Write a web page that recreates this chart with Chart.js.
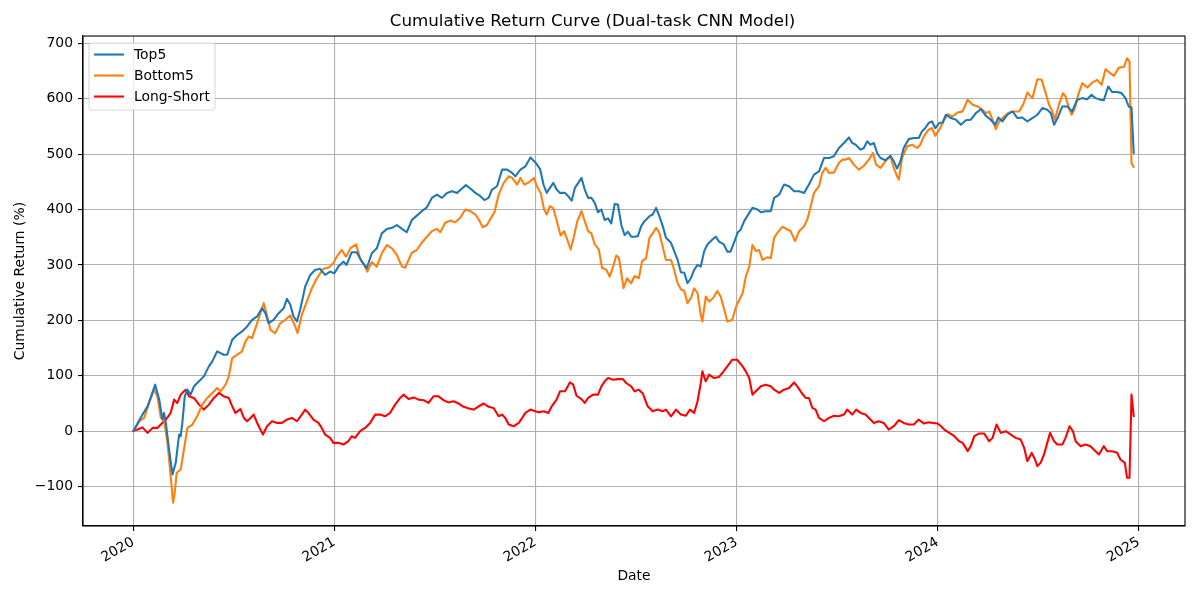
<!DOCTYPE html>
<html lang="en">
<head>
    <meta charset="UTF-8">
    <title>Cumulative Return Curve</title>
    <style>
        body { margin: 0; background: #fff; }
        #chartBox { width: 1200px; height: 600px; }
    </style>
</head>
<body>
<div id="chartBox"><canvas id="returnChart" width="1200" height="600"></canvas></div>

<script src="https://cdn.jsdelivr.net/npm/chart.js"></script>
<script>
// x values are decimal years, y values are cumulative return in %
const top5Years = [
    2020.000, 2020.046, 2020.071, 2020.109, 2020.129, 2020.145, 2020.153, 2020.162, 2020.178, 2020.195,
    2020.211, 2020.228, 2020.236, 2020.244, 2020.256, 2020.269, 2020.285, 2020.302, 2020.327, 2020.351,
    2020.376, 2020.393, 2020.417, 2020.434, 2020.450, 2020.467, 2020.492, 2020.517, 2020.541, 2020.566,
    2020.591, 2020.616, 2020.640, 2020.657, 2020.673, 2020.698, 2020.723, 2020.748, 2020.764, 2020.781,
    2020.797, 2020.814, 2020.830, 2020.855, 2020.880, 2020.904, 2020.929, 2020.954, 2020.979,
    2021.000, 2021.020, 2021.045, 2021.061, 2021.086, 2021.111, 2021.136, 2021.161, 2021.186, 2021.211,
    2021.236, 2021.261, 2021.286, 2021.311, 2021.336, 2021.360, 2021.385, 2021.410, 2021.435, 2021.460,
    2021.485, 2021.510, 2021.535, 2021.560, 2021.585, 2021.610, 2021.635, 2021.654, 2021.676, 2021.701,
    2021.726, 2021.746, 2021.767, 2021.784, 2021.809, 2021.834, 2021.859, 2021.884, 2021.900, 2021.925,
    2021.950, 2021.975,
    2022.000, 2022.023, 2022.040, 2022.056, 2022.072, 2022.089, 2022.105, 2022.122, 2022.147, 2022.163,
    2022.180, 2022.196, 2022.213, 2022.229, 2022.245, 2022.262, 2022.278, 2022.295, 2022.311, 2022.328,
    2022.344, 2022.361, 2022.377, 2022.394, 2022.410, 2022.427, 2022.443, 2022.460, 2022.476, 2022.493,
    2022.509, 2022.526, 2022.542, 2022.567, 2022.583, 2022.600, 2022.616, 2022.633, 2022.649, 2022.674,
    2022.690, 2022.707, 2022.723, 2022.740, 2022.756, 2022.773, 2022.789, 2022.806, 2022.822, 2022.839,
    2022.855, 2022.880, 2022.896, 2022.913, 2022.937, 2022.954, 2022.970, 2022.987,
    2023.005, 2023.021, 2023.038, 2023.063, 2023.079, 2023.104, 2023.121, 2023.145, 2023.170, 2023.187,
    2023.212, 2023.236, 2023.261, 2023.286, 2023.311, 2023.336, 2023.360, 2023.385, 2023.410, 2023.435,
    2023.460, 2023.484, 2023.509, 2023.534, 2023.559, 2023.575, 2023.592, 2023.617, 2023.633, 2023.650,
    2023.666, 2023.683, 2023.699, 2023.716, 2023.740, 2023.765, 2023.782, 2023.798, 2023.815, 2023.831,
    2023.856, 2023.881, 2023.906, 2023.922, 2023.939, 2023.955, 2023.972, 2023.988,
    2024.008, 2024.025, 2024.041, 2024.066, 2024.091, 2024.116, 2024.140, 2024.165, 2024.190, 2024.215,
    2024.240, 2024.264, 2024.286, 2024.302, 2024.322, 2024.347, 2024.372, 2024.397, 2024.421, 2024.446,
    2024.471, 2024.496, 2024.521, 2024.545, 2024.562, 2024.579, 2024.600, 2024.620, 2024.645, 2024.669,
    2024.694, 2024.719, 2024.744, 2024.765, 2024.785, 2024.810, 2024.826, 2024.848, 2024.868, 2024.893,
    2024.914, 2024.934, 2024.950, 2024.964, 2024.975
];
const top5Values = [
    0, 30, 45, 84, 57, 21, 33, 15, -33, -78,
    -57, -6, -9, 15, 63, 75, 66, 81, 90, 99,
    117, 126, 144, 141, 138, 138, 165, 174, 180, 189,
    201, 207, 222, 213, 195, 201, 213, 222, 239, 228,
    207, 198, 219, 261, 282, 291, 293, 282, 288,
    285, 297, 306, 300, 323, 323, 306, 294, 321, 330,
    357, 365, 367, 372, 365, 359, 381, 389, 397, 404,
    421, 427, 421, 430, 433, 430, 438, 444, 438, 430,
    424, 417, 421, 436, 442, 472, 472, 466, 460, 472,
    478, 494,
    485, 473, 445, 430, 439, 448, 436, 430, 430, 424,
    416, 439, 448, 457, 436, 421, 421, 412, 395, 400,
    381, 384, 375, 410, 409, 372, 354, 360, 351, 351,
    352, 370, 379, 388, 391, 403, 388, 370, 349, 340,
    325, 309, 287, 286, 267, 276, 291, 300, 297, 325,
    337, 346, 351, 342, 337, 324, 324, 340,
    358, 364, 379, 394, 403, 400, 395, 397, 397, 421,
    427, 445, 442, 433, 433, 430, 445, 463, 469, 493,
    493, 496, 511, 520, 530, 520, 517, 508, 511, 523,
    517, 520, 502, 493, 489, 497, 487, 474, 487, 511,
    527, 529, 529, 541, 547, 556, 559, 547,
    556, 557, 571, 565, 562, 553, 561, 562, 574, 581,
    569, 562, 553, 566, 559, 571, 577, 565, 566, 559,
    565, 571, 583, 580, 574, 553, 568, 586, 586, 577,
    598, 601, 599, 607, 601, 598, 597, 622, 612, 612,
    610, 601, 586, 584, 502
];

const bottom5Years = [
    2020.000, 2020.030, 2020.054, 2020.079, 2020.104, 2020.120, 2020.137, 2020.153, 2020.170, 2020.186,
    2020.198, 2020.206, 2020.216, 2020.236, 2020.252, 2020.269, 2020.294, 2020.318, 2020.343, 2020.368,
    2020.393, 2020.417, 2020.434, 2020.459, 2020.475, 2020.492, 2020.517, 2020.541, 2020.558, 2020.574,
    2020.591, 2020.616, 2020.632, 2020.649, 2020.665, 2020.682, 2020.706, 2020.731, 2020.756, 2020.781,
    2020.805, 2020.817, 2020.838, 2020.863, 2020.888, 2020.913, 2020.945, 2020.970, 2020.995,
    2021.012, 2021.037, 2021.058, 2021.081, 2021.108, 2021.128, 2021.145, 2021.164, 2021.186, 2021.211,
    2021.236, 2021.261, 2021.286, 2021.311, 2021.336, 2021.352, 2021.369, 2021.385, 2021.410, 2021.435,
    2021.460, 2021.485, 2021.510, 2021.527, 2021.551, 2021.576, 2021.601, 2021.626, 2021.651, 2021.676,
    2021.701, 2021.718, 2021.738, 2021.759, 2021.779, 2021.796, 2021.817, 2021.842, 2021.867, 2021.884,
    2021.909, 2021.925, 2021.945, 2021.967, 2021.992,
    2022.007, 2022.026, 2022.043, 2022.056, 2022.072, 2022.089, 2022.105, 2022.125, 2022.142, 2022.155,
    2022.175, 2022.191, 2022.208, 2022.229, 2022.245, 2022.262, 2022.278, 2022.295, 2022.315, 2022.331,
    2022.353, 2022.369, 2022.386, 2022.402, 2022.415, 2022.427, 2022.438, 2022.455, 2022.476, 2022.493,
    2022.514, 2022.530, 2022.550, 2022.567, 2022.583, 2022.600, 2022.616, 2022.636, 2022.649, 2022.674,
    2022.690, 2022.707, 2022.723, 2022.740, 2022.756, 2022.773, 2022.789, 2022.806, 2022.822, 2022.830,
    2022.847, 2022.863, 2022.883, 2022.904, 2022.921, 2022.937, 2022.954, 2022.979, 2022.995,
    2023.005, 2023.030, 2023.046, 2023.063, 2023.079, 2023.096, 2023.112, 2023.129, 2023.154, 2023.170,
    2023.187, 2023.203, 2023.228, 2023.253, 2023.269, 2023.291, 2023.311, 2023.336, 2023.352, 2023.369,
    2023.385, 2023.410, 2023.426, 2023.443, 2023.460, 2023.484, 2023.509, 2023.526, 2023.542, 2023.559,
    2023.583, 2023.608, 2023.633, 2023.658, 2023.678, 2023.694, 2023.716, 2023.740, 2023.765, 2023.782,
    2023.798, 2023.807, 2023.823, 2023.848, 2023.873, 2023.898, 2023.914, 2023.931, 2023.955, 2023.972,
    2023.988,
    2024.008, 2024.033, 2024.050, 2024.074, 2024.099, 2024.124, 2024.149, 2024.174, 2024.198, 2024.223,
    2024.240, 2024.256, 2024.273, 2024.289, 2024.306, 2024.331, 2024.355, 2024.380, 2024.405, 2024.425,
    2024.446, 2024.471, 2024.496, 2024.517, 2024.537, 2024.554, 2024.570, 2024.583, 2024.603, 2024.623,
    2024.636, 2024.653, 2024.666, 2024.683, 2024.699, 2024.719, 2024.744, 2024.769, 2024.793, 2024.815,
    2024.835, 2024.855, 2024.876, 2024.901, 2024.926, 2024.942, 2024.954, 2024.964, 2024.975
];
const bottom5Values = [
    0, 18, 24, 51, 75, 63, 24, 21, -21, -81,
    -129, -111, -75, -69, -33, 6, 12, 27, 48, 60,
    69, 78, 72, 84, 99, 132, 138, 144, 162, 171,
    168, 195, 213, 231, 209, 183, 177, 195, 201, 209,
    189, 177, 210, 234, 258, 276, 293, 295, 303,
    315, 327, 315, 331, 337, 312, 303, 288, 305, 297,
    321, 336, 330, 318, 297, 295, 309, 322, 327, 340,
    351, 361, 365, 359, 376, 380, 377, 385, 400, 397,
    391, 382, 368, 372, 385, 395, 427, 448, 460, 457,
    445, 457, 445, 449, 457,
    442, 430, 400, 391, 406, 402, 381, 353, 361, 349,
    328, 351, 379, 397, 379, 361, 357, 337, 328, 295,
    291, 279, 297, 317, 313, 285, 258, 276, 267, 280,
    276, 307, 312, 349, 357, 367, 358, 328, 309, 309,
    291, 267, 256, 253, 231, 240, 258, 249, 210, 198,
    243, 234, 240, 253, 243, 222, 198, 201, 222,
    231, 249, 279, 297, 336, 325, 327, 309, 314, 312,
    349, 358, 369, 364, 361, 343, 361, 370, 382, 406,
    430, 442, 466, 475, 466, 467, 484, 490, 490, 493,
    481, 472, 479, 490, 502, 481, 475, 487, 496, 475,
    460, 454, 493, 514, 517, 511, 517, 532, 544, 547,
    533,
    544, 562, 572, 568, 575, 577, 598, 589, 586, 580,
    574, 577, 562, 545, 559, 568, 575, 577, 577, 589,
    611, 601, 635, 634, 610, 589, 577, 562, 589, 610,
    604, 583, 571, 583, 607, 628, 620, 629, 634, 625,
    653, 647, 641, 656, 657, 673, 667, 483, 477
];

const longShortYears = [
    2020.000, 2020.021, 2020.046, 2020.071, 2020.096, 2020.120, 2020.137, 2020.162, 2020.186, 2020.203,
    2020.219, 2020.236, 2020.252, 2020.261, 2020.277, 2020.302, 2020.327, 2020.351, 2020.376, 2020.401,
    2020.426, 2020.450, 2020.475, 2020.492, 2020.508, 2020.533, 2020.550, 2020.566, 2020.583, 2020.599,
    2020.616, 2020.632, 2020.645, 2020.665, 2020.690, 2020.715, 2020.739, 2020.764, 2020.789, 2020.814,
    2020.838, 2020.855, 2020.871, 2020.896, 2020.921, 2020.937, 2020.954, 2020.979, 2020.995,
    2021.020, 2021.045, 2021.070, 2021.086, 2021.103, 2021.128, 2021.153, 2021.178, 2021.203, 2021.228,
    2021.252, 2021.277, 2021.302, 2021.327, 2021.344, 2021.369, 2021.394, 2021.419, 2021.444, 2021.468,
    2021.493, 2021.518, 2021.543, 2021.568, 2021.593, 2021.618, 2021.643, 2021.668, 2021.693, 2021.718,
    2021.743, 2021.767, 2021.792, 2021.817, 2021.834, 2021.850, 2021.867, 2021.892, 2021.917, 2021.934,
    2021.950, 2021.975,
    2022.000, 2022.015, 2022.040, 2022.064, 2022.081, 2022.105, 2022.122, 2022.147, 2022.171, 2022.188,
    2022.204, 2022.229, 2022.245, 2022.262, 2022.287, 2022.311, 2022.328, 2022.344, 2022.361, 2022.386,
    2022.410, 2022.435, 2022.451, 2022.476, 2022.493, 2022.514, 2022.534, 2022.558, 2022.583, 2022.608,
    2022.633, 2022.649, 2022.674, 2022.699, 2022.723, 2022.748, 2022.768, 2022.789, 2022.806, 2022.822,
    2022.830, 2022.847, 2022.863, 2022.888, 2022.913, 2022.929, 2022.954, 2022.979,
    2023.003, 2023.030, 2023.046, 2023.063, 2023.079, 2023.096, 2023.121, 2023.145, 2023.170, 2023.187,
    2023.212, 2023.236, 2023.261, 2023.286, 2023.302, 2023.324, 2023.344, 2023.360, 2023.377, 2023.393,
    2023.410, 2023.435, 2023.460, 2023.484, 2023.509, 2023.534, 2023.550, 2023.575, 2023.595, 2023.617,
    2023.641, 2023.666, 2023.683, 2023.707, 2023.732, 2023.757, 2023.782, 2023.807, 2023.831, 2023.856,
    2023.881, 2023.906, 2023.931, 2023.955, 2023.980,
    2024.000, 2024.017, 2024.033, 2024.058, 2024.083, 2024.107, 2024.124, 2024.140, 2024.149, 2024.165,
    2024.182, 2024.207, 2024.231, 2024.256, 2024.273, 2024.293, 2024.314, 2024.339, 2024.364, 2024.388,
    2024.413, 2024.430, 2024.446, 2024.468, 2024.484, 2024.496, 2024.512, 2024.529, 2024.545, 2024.559,
    2024.579, 2024.595, 2024.620, 2024.636, 2024.656, 2024.673, 2024.686, 2024.711, 2024.736, 2024.760,
    2024.785, 2024.802, 2024.826, 2024.843, 2024.868, 2024.893, 2024.909, 2024.931, 2024.942, 2024.954,
    2024.964, 2024.975
];
const longShortValues = [
    1, 3, 7, -3, 6, 6, 12, 21, 33, 57,
    51, 66, 72, 75, 63, 60, 48, 39, 48, 60,
    69, 63, 60, 45, 33, 40, 24, 18, 24, 30,
    15, 3, -6, 9, 18, 15, 15, 21, 24, 18,
    30, 39, 33, 21, 15, 6, -6, -12, -21,
    -21, -24, -18, -9, -12, 0, 6, 15, 30, 30,
    27, 33, 48, 60, 66, 58, 61, 57, 56, 51,
    63, 63, 56, 52, 54, 50, 44, 41, 39, 45,
    50, 44, 42, 27, 30, 24, 12, 9, 15, 24,
    33, 39,
    36, 34, 36, 33, 45, 57, 72, 72, 88, 84,
    64, 58, 51, 60, 66, 66, 81, 90, 96, 93,
    94, 94, 87, 81, 72, 75, 68, 45, 36, 39,
    36, 39, 27, 39, 30, 28, 39, 33, 54, 87,
    108, 90, 102, 96, 98, 105, 117, 129,
    129, 117, 108, 96, 66, 72, 81, 84, 81, 75,
    69, 75, 78, 88, 81, 69, 60, 60, 42, 39,
    24, 18, 24, 28, 27, 30, 39, 30, 39, 33,
    30, 21, 15, 18, 15, 3, 9, 20, 15, 12,
    12, 21, 14, 16, 15,
    14, 9, 3, -3, -9, -18, -21, -30, -36, -27,
    -9, -4, -4, -18, -12, 12, -3, 0, -6, -12,
    -15, -30, -54, -39, -51, -63, -57, -42, -21, -3,
    -18, -24, -24, -12, 9, 0, -18, -27, -24, -27,
    -36, -42, -27, -36, -36, -39, -51, -57, -84, -84,
    66, 27
];

const yearTicks = [2020, 2021, 2022, 2023, 2024, 2025];

const FONT = 'DejaVu Sans';
const LINE_W = 2.08; // 1.5pt at 100 dpi

function toPoints(xs, ys) {
    return xs.map((x, i) => ({ x: x, y: ys[i] }));
}

// black frame on all four sides, like matplotlib spines
const framePlugin = {
    id: 'frame',
    afterDatasetsDraw(chart) {
        const { ctx, chartArea: a } = chart;
        ctx.save();
        ctx.strokeStyle = '#000';
        ctx.lineWidth = 1.1;
        ctx.strokeRect(a.left, a.top, a.right - a.left, a.bottom - a.top);
        ctx.restore();
    }
};

// legend box in the upper left corner of the plot
const boxLegend = {
    id: 'boxLegend',
    afterDraw(chart) {
        const { ctx, chartArea: a } = chart;
        const x0 = a.left + 6, y0 = a.top + 7, w = 126, h = 67;
        ctx.save();
        ctx.beginPath();
        ctx.roundRect(x0, y0, w, h, 3);
        ctx.fillStyle = 'rgba(255,255,255,0.8)';
        ctx.fill();
        ctx.strokeStyle = 'rgba(204,204,204,0.8)';
        ctx.lineWidth = 1;
        ctx.stroke();
        ctx.font = '13.9px "' + FONT + '"';
        ctx.textBaseline = 'middle';
        chart.data.datasets.forEach((ds, i) => {
            const y = y0 + 11.5 + i * 21;
            ctx.beginPath();
            ctx.moveTo(x0 + 5, y);
            ctx.lineTo(x0 + 35, y);
            ctx.strokeStyle = ds.borderColor;
            ctx.lineWidth = LINE_W;
            ctx.stroke();
            ctx.fillStyle = '#000';
            ctx.fillText(ds.label, x0 + 45, y + 1);
        });
        ctx.restore();
    }
};

Chart.defaults.color = '#000';
Chart.defaults.font.family = FONT;

new Chart(document.getElementById('returnChart'), {
    type: 'line',
    data: {
        datasets: [
            { label: 'Top5', data: toPoints(top5Years, top5Values), borderColor: '#1f77b4' },
            { label: 'Bottom5', data: toPoints(bottom5Years, bottom5Values), borderColor: '#ff7f0e' },
            { label: 'Long-Short', data: toPoints(longShortYears, longShortValues), borderColor: '#ff0000' }
        ]
    },
    options: {
        responsive: false,
        animation: false,
        elements: {
            point: { radius: 0 },
            line: { borderWidth: LINE_W, tension: 0, borderJoinStyle: 'round', borderCapStyle: 'round' }
        },
        layout: { padding: { left: 0, right: 15, top: 0, bottom: 0 } },
        plugins: {
            legend: { display: false },
            tooltip: { enabled: false },
            title: {
                display: true,
                text: 'Cumulative Return Curve (Dual-task CNN Model)',
                font: { size: 16.7, weight: 'normal', family: FONT },
                color: '#000',
                padding: { top: 12, bottom: 4 }
            }
        },
        scales: {
            x: {
                type: 'linear',
                min: 2019.75,
                max: 2025.23,
                afterBuildTicks: (scale) => {
                    scale.ticks = yearTicks.map(v => ({ value: v }));
                },
                afterFit: (scale) => { scale.height = 74; },
                ticks: {
                    autoSkip: false,
                    minRotation: 30,
                    maxRotation: 30,
                    padding: 3,
                    font: { size: 13.9 },
                    callback: (v) => String(v)
                },
                grid: { color: '#b0b0b0', lineWidth: 1.1, tickColor: '#000', tickLength: 5, tickWidth: 1.1 },
                border: { color: '#000', width: 1.1 },
                title: {
                    display: true,
                    text: 'Date',
                    font: { size: 13.9 },
                    padding: { top: 0, bottom: 15 }
                }
            },
            y: {
                min: -171,
                max: 713,
                afterFit: (scale) => { scale.width = 83; },
                ticks: {
                    stepSize: 100,
                    includeBounds: false,
                    padding: 5,
                    font: { size: 13.9 },
                    callback: (v) => (v < 0 ? '\u2212' + Math.abs(v) : String(v))
                },
                grid: { color: '#b0b0b0', lineWidth: 1.1, tickColor: '#000', tickLength: 5, tickWidth: 1.1 },
                border: { color: '#000', width: 1.1 },
                title: {
                    display: true,
                    text: 'Cumulative Return (%)',
                    font: { size: 13.9 },
                    padding: { top: 12, bottom: 0 }
                }
            }
        }
    },
    plugins: [framePlugin, boxLegend]
});
</script>
</body>
</html>
